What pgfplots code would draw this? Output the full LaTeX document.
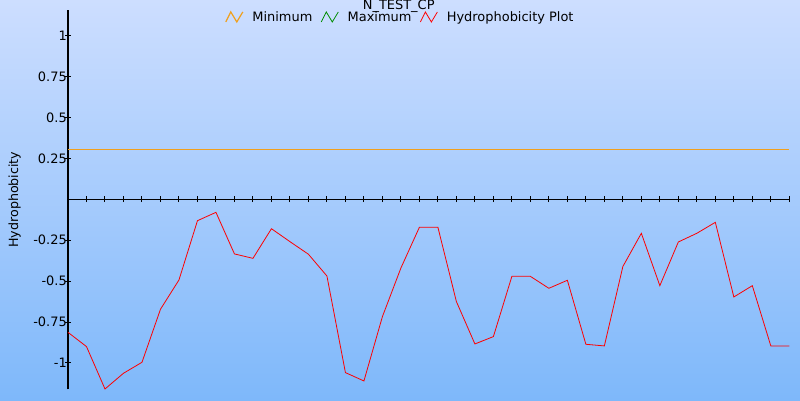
\documentclass[border=0pt]{standalone}
\usepackage{pgfplots}
\pgfplotsset{compat=1.18}
\usepackage{fontspec}
\setmainfont{DejaVu Sans}
\definecolor{bgtop}{RGB}{205,222,255}
\definecolor{bgbot}{RGB}{126,184,250}
\definecolor{minline}{RGB}{240,160,30}
\definecolor{maxline}{RGB}{0,140,0}
\begin{document}
\begin{tikzpicture}[x=1bp,y=1bp]
\shade[top color=bgtop,bottom color=bgbot] (0,0) rectangle (800,400);
\useasboundingbox (0,0) rectangle (800,400);
\node[font=\fontsize{13}{15}\selectfont] at (398.7,393.5) {N\_TEST\_CP};
\begin{axis}[
  at={(68bp,10.7bp)}, anchor=south west,
  scale only axis, width=721.3bp, height=379.3bp,
  xmin=0, xmax=39, ymin=-1.161, ymax=1.156,
  axis lines=middle,
  axis line style={-, black, line width=1.2bp},
  xtick={0,...,39}, xticklabels={},
  ytick={-1,-0.75,-0.5,-0.25,0.25,0.5,0.75,1},
  yticklabels={-1,-0.75,-0.5,-0.25,0.25,0.5,0.75,1},
  tick align=center,
  major tick length=6bp,
  tick style={black, line width=1bp},
  yticklabel style={font=\fontsize{13}{15}\selectfont, inner sep=0bp, xshift=2bp},
  /pgf/number format/assume math mode=true,
  ylabel={Hydrophobicity},
  every axis y label/.style={at={(rel axis cs:-0.074,0.5)}, rotate=90, anchor=center, font=\fontsize{12.7}{15}\selectfont},
  legend columns=3,
  legend style={at={(rel axis cs:0.2135,0.9816)}, anchor=west, draw=none, fill=none,
    font=\fontsize{13}{15}\selectfont,
    /tikz/every odd column/.append style={column sep=7bp},
    /tikz/every even column/.append style={column sep=6.5bp}},
  legend image code/.code={\draw[#1] (0bp,-5bp) -- (5bp,5bp) -- (11bp,-5bp) -- (17bp,5bp);},
  clip=false,
]
\addplot[minline, line width=1.2bp] coordinates {(0,0.305) (39,0.305)};
\addlegendentry{Minimum}
\addlegendimage{maxline, line width=0.8bp}
\addlegendentry{Maximum}
\addplot[red, line width=0.8bp] coordinates {
(0,-0.813) (1,-0.900) (2,-1.159) (3,-1.063) (4,-0.996) (5,-0.672) (6,-0.493) (7,-0.131)
(8,-0.080) (9,-0.334) (10,-0.361) (11,-0.180) (12,-0.259) (13,-0.336) (14,-0.469) (15,-1.059)
(16,-1.110) (17,-0.717) (18,-0.420) (19,-0.171) (20,-0.171) (21,-0.625) (22,-0.884) (23,-0.839)
(24,-0.471) (25,-0.471) (26,-0.544) (27,-0.495) (28,-0.886) (29,-0.896) (30,-0.411) (31,-0.208)
(32,-0.528) (33,-0.261) (34,-0.208) (35,-0.141) (36,-0.597) (37,-0.528) (38,-0.896) (39,-0.896)
};
\addlegendentry{Hydrophobicity Plot}
\end{axis}
\end{tikzpicture}
\end{document}
